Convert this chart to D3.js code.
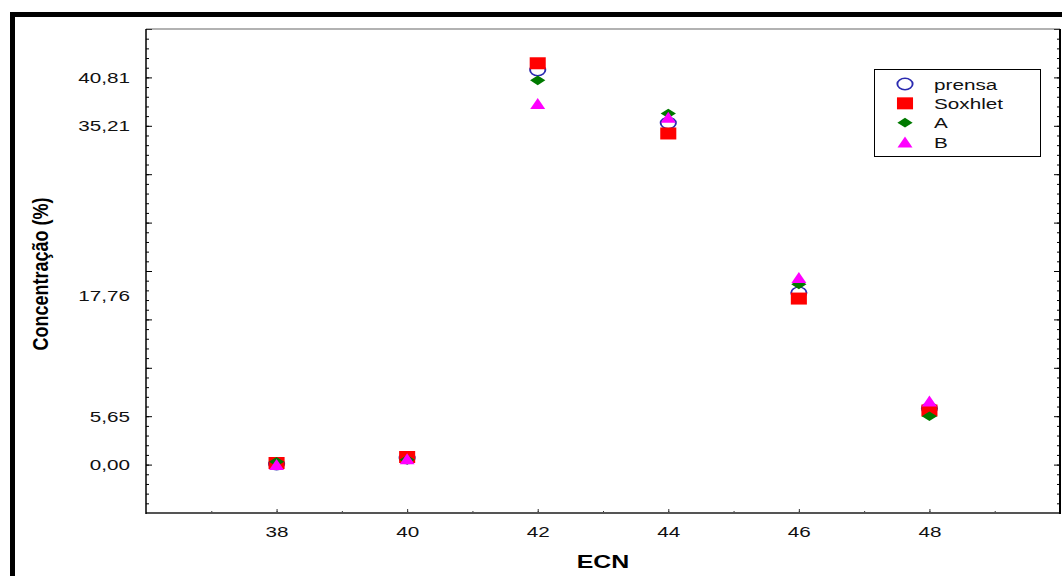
<!DOCTYPE html>
<html>
<head>
<meta charset="utf-8">
<script src="https://cdn.jsdelivr.net/npm/d3@7"></script>
<style>
  body { margin: 0; background: #fff; }
  svg { display: block; font-family: 'Liberation Sans', Arial, sans-serif; }
</style>
</head>
<body>
<div id="chart-container"></div>
<script>
// data
const ecn = [38, 40, 42, 44, 46, 48]
const prensa = [0.06, 0.7, 41.6, 36.0, 18.1, 5.9]
const soxhlet = [0.17, 0.8, 42.3, 34.9, 17.5, 5.7]
const serieA = [0.3, 0.5, 40.5, 37.0, 19.0, 5.1]
const serieB = [0.0, 0.6, 38.05, 36.6, 19.7, 6.7]
const seriesNames = ['prensa', 'Soxhlet', 'A', 'B']
const xTickValues = [38, 40, 42, 44, 46, 48]
const yTickValues = [0, 5.10, 17.76, 35.71, 40.81]
const yTickLabels = ['0,00', '5,65', '17,76', '35,21', '40,81']

// constants
const width = 1062
const height = 576
const plot = {left: 146, top: 29, right: 1060, bottom: 513}
const stretch = 1.38 // the original picture is wider than tall

const svg = d3.select('#chart-container')
  .append('svg')
  .attr('width', width)
  .attr('height', height)

// outer frame
svg.append('line').attr('x1', 10).attr('x2', width).attr('y1', 14.5).attr('y2', 14.5)
  .attr('stroke', '#000').attr('stroke-width', 5)
svg.append('line').attr('x1', 12.5).attr('x2', 12.5).attr('y1', 12).attr('y2', height)
  .attr('stroke', '#000').attr('stroke-width', 5)

// scales
const xScale = d3.scaleLinear().domain([36, 50]).range([plot.left, plot.right])
const yStep = 40.81 / 8
const yScale = d3.scaleLinear().domain([-yStep, 9 * yStep]).range([plot.bottom, plot.top])

const majorY = d3.range(-1, 10).map(i => i * yStep)
const minorY = d3.range(-5, 46).map(i => i * yStep / 5)

// left and right axis ticks, pointing inside
function innerTicks (x, axisFn) {
  svg.append('g').attr('transform', `translate(${x},0)`)
    .call(axisFn(yScale).tickValues(minorY).tickSize(3).tickFormat(''))
    .call(g => g.select('.domain').remove())
  svg.append('g').attr('transform', `translate(${x},0)`)
    .call(axisFn(yScale).tickValues(majorY).tickSize(6).tickFormat(''))
    .call(g => g.select('.domain').remove())
}
innerTicks(plot.left, d3.axisRight)
innerTicks(plot.right, d3.axisLeft)

// y labels
svg.append('g').attr('transform', `translate(${plot.left},0)`)
  .call(d3.axisLeft(yScale).tickValues(yTickValues).tickSize(0)
    .tickFormat((d, i) => yTickLabels[i]))
  .call(g => g.select('.domain').remove())
  .call(g => g.selectAll('text')
    .attr('x', -16 / stretch)
    .attr('transform', `scale(${stretch},1)`)
    .attr('font-size', 15)
    .attr('font-family', 'Liberation Sans, Arial, sans-serif')
    .attr('fill', '#111'))

// bottom axis ticks (inside)
svg.append('g').attr('transform', `translate(0,${plot.bottom})`)
  .call(d3.axisTop(xScale).tickValues(d3.range(37, 50)).tickSize(2).tickFormat(''))
  .call(g => g.select('.domain').remove())
  .call(g => g.selectAll('line').attr('stroke', '#333'))
svg.append('g').attr('transform', `translate(0,${plot.bottom})`)
  .call(d3.axisTop(xScale).tickValues(xTickValues).tickSize(4).tickFormat(''))
  .call(g => g.select('.domain').remove())
  .call(g => g.selectAll('line').attr('stroke', '#333'))
svg.append('g').attr('transform', `translate(0,${plot.bottom})`)
  .call(d3.axisBottom(xScale).tickValues(xTickValues).tickSize(0).tickPadding(13))
  .call(g => g.select('.domain').remove())
  .call(g => g.selectAll('text')
    .attr('transform', `scale(${stretch},1)`)
    .attr('font-size', 15)
    .attr('font-family', 'Liberation Sans, Arial, sans-serif')
    .attr('fill', '#111'))

// plot frame
svg.append('line').attr('x1', plot.left).attr('x2', plot.right).attr('y1', plot.top).attr('y2', plot.top)
  .attr('stroke', '#666').attr('stroke-width', 1.2)
svg.append('line').attr('x1', plot.left).attr('x2', plot.right + 1).attr('y1', plot.bottom).attr('y2', plot.bottom)
  .attr('stroke', '#555').attr('stroke-width', 2)
svg.append('line').attr('x1', plot.left).attr('x2', plot.left).attr('y1', plot.top).attr('y2', plot.bottom + 1)
  .attr('stroke', '#000').attr('stroke-width', 1.5)
svg.append('line').attr('x1', plot.right).attr('x2', plot.right).attr('y1', plot.top).attr('y2', plot.bottom + 1)
  .attr('stroke', '#000').attr('stroke-width', 2)

// axis titles
svg.append('text')
  .attr('transform', `translate(603,568) scale(${stretch * 0.95},1)`)
  .attr('text-anchor', 'middle')
  .attr('font-size', 19).attr('font-weight', 'bold')
  .text('ECN')
svg.append('text')
  .attr('transform', `translate(48,274) rotate(-90) scale(1,1.2)`)
  .attr('text-anchor', 'middle')
  .attr('font-size', 18).attr('font-weight', 'bold')
  .text('Concentração (%)')

// marker shapes, drawn unscaled then stretched
const shapes = {
  prensa: {path: d3.symbol(d3.symbolCircle, Math.PI * 5.7 * 5.7)(), fill: '#fff', stroke: '#2b2bb0', sw: 1.4},
  Soxhlet: {path: 'M-6,-6H6V6H-6Z', fill: '#ff0000', stroke: 'none', sw: 0},
  A: {path: 'M0,-4.8L5.7,0L0,4.8L-5.7,0Z', fill: '#007a00', stroke: 'none', sw: 0},
  B: {path: 'M0,-5.6L5.6,5.4H-5.6Z', fill: '#ff00ff', stroke: 'none', sw: 0}
}
const seriesValues = [prensa, soxhlet, serieA, serieB]

seriesNames.forEach((name, s) => {
  const sh = shapes[name]
  svg.append('g').selectAll('path')
    .data(ecn.map((x, i) => ({x, v: seriesValues[s][i]})))
    .join('path')
    .attr('d', sh.path)
    .attr('transform', d => `translate(${xScale(d.x)},${yScale(d.v)}) scale(${stretch * 0.97},1)`)
    .attr('fill', sh.fill)
    .attr('stroke', sh.stroke)
    .attr('stroke-width', sh.sw)
})

// legend
const legend = svg.append('g')
legend.append('rect')
  .attr('x', 874.5).attr('y', 69.5).attr('width', 166).attr('height', 87)
  .attr('fill', '#fff').attr('stroke', '#000').attr('stroke-width', 1)
const legendY = d3.scalePoint().domain(seriesNames).range([84, 142])
seriesNames.forEach(name => {
  const sh = shapes[name]
  legend.append('path')
    .attr('d', sh.path)
    .attr('transform', `translate(905,${legendY(name)}) scale(${stretch * 0.97},1)`)
    .attr('fill', sh.fill).attr('stroke', sh.stroke).attr('stroke-width', sh.sw)
  legend.append('text')
    .attr('transform', `translate(934,${legendY(name) + 5.5}) scale(${stretch},1)`)
    .attr('font-size', 15)
    .attr('fill', '#111')
    .text(name)
})
</script>
</body>
</html>
